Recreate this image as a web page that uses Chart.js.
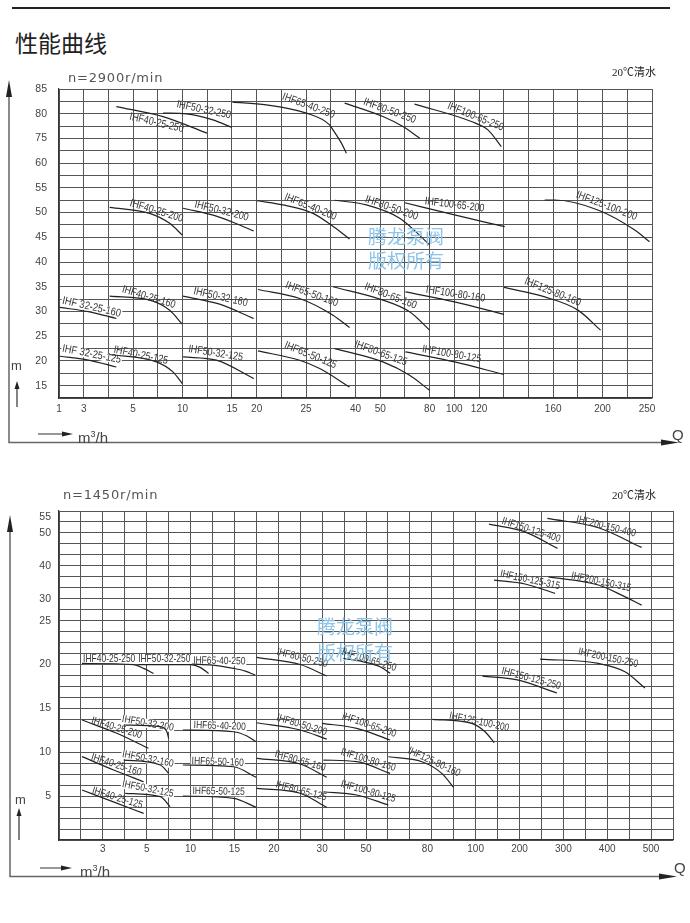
<!DOCTYPE html>
<html>
<head>
<meta charset="utf-8">
<title>性能曲线</title>
<script src="https://cdn.jsdelivr.net/npm/chart.js@4.4.1/dist/chart.umd.min.js"></script>
<style>
  body { margin: 0; background: #fff; }
  #page { position: relative; width: 690px; height: 923px; overflow: hidden; }
  canvas { position: absolute; left: 0; }
  .txt { position: absolute; white-space: nowrap; color: #444; font-family: "Liberation Sans", sans-serif; }
  .speed { font-family: "DejaVu Sans", sans-serif; font-size: 13px; line-height: 16px; letter-spacing: 0.8px; color: #555; }
  .note { font-family: "Liberation Serif", "Noto Sans CJK SC", serif; font-size: 11px; line-height: 14px; color: #222; }
  .mark { font-family: "Noto Sans CJK SC", sans-serif; font-size: 19px; color: #8cc5e8; }
  .unit { font-size: 15px; line-height: 18px; }
</style>
</head>
<body>
<div id="page">
  <div style="position:absolute;left:12px;top:7px;width:658px;border-top:2px solid #222"></div>
  <div class="txt" style="left:15px;top:29px;font-family:'Noto Sans CJK SC';font-size:23px;line-height:26px;color:#222">性能曲线</div>

  <canvas id="top" width="690" height="460" style="top:0"></canvas>
  <canvas id="bot" width="690" height="463" style="top:460px"></canvas>

  <div class="txt speed" style="left:68px;top:70px">n=2900r/min</div>
  <div class="txt note" style="left:612px;top:65px">20℃清水</div>
  <div class="txt mark" style="left:368px;top:224px;line-height:24px">腾龙泵阀<br>版权所有</div>
  <div class="txt" style="left:11px;top:358px;font-size:13px;line-height:16px">m</div>
  <div class="txt unit" style="left:78px;top:425px">m<sup style="font-size:9px">3</sup>/h</div>
  <div class="txt unit" style="left:672px;top:426px">Q</div>

  <div class="txt speed" style="left:63px;top:487px">n=1450r/min</div>
  <div class="txt note" style="left:612px;top:488px">20℃清水</div>
  <div class="txt mark" style="left:317px;top:613px;line-height:26px">腾龙泵阀<br>版权所有</div>
  <div class="txt" style="left:15px;top:792px;font-size:13px;line-height:16px">m</div>
  <div class="txt unit" style="left:80px;top:859px">m<sup style="font-size:9px">3</sup>/h</div>
  <div class="txt unit" style="left:674px;top:859px">Q</div>
</div>

<script>
// ---- n=2900r/min : positions are in grid cells (x = column, y = row from bottom)
const topCols = 24, topRows = 25;
const topQLabels = ['1','3','5','10','15','20','25','40','50','80','100','120','160','200','250'];
const topQPos = [0,1,3,5,7,8,10,12,13,15,16,17,20,22,23.8];
const topHLabels = ['15','20','25','30','35','40','45','50','55','60','75','80','85'];
const topHPos = [1,3,5,7,9,11,13,15,17,19,21,23,25];

const topModels = ['IHF40-25-250','IHF50-32-250','IHF65-40-250','IHF80-50-250','IHF100-65-250',
  'IHF40-25-200','IHF50-32-200','IHF65-40-200','IHF80-50-200','IHF100-65-200','IHF125-100-200',
  'IHF 32-25-160','IHF40-25-160','IHF50-32-160','IHF65-50-160','IHF80-65-160','IHF100-80-160','IHF125-80-160',
  'IHF 32-25-125','IHF40-25-125','IHF50-32-125','IHF65-50-125','IHF80-65-125','IHF100-80-125'];

const topCurves = [
  [[2.32,23.58],[4.21,22.77],[5.99,21.43]],
  [[4.21,23.05],[5.16,22.99],[6.23,22.5],[7.0,21.88]],
  [[7.02,23.94],[8.39,23.72],[10.01,23.05],[10.95,22.1],[11.09,21.69],[11.43,20.62],[11.63,19.8]],
  [[11.56,23.86],[13.11,22.77],[13.92,21.96],[14.6,21.02]],
  [[14.39,23.78],[16.69,22.37],[17.36,21.69],[17.9,20.34]],
  [[2.05,15.43],[3.67,14.94],[4.48,14.13],[4.99,13.18]],
  [[5.02,15.35],[6.37,14.72],[7.31,14.0],[7.88,13.51]],
  [[8.01,15.96],[9.13,15.6],[10.28,14.94],[11.02,13.99],[11.76,12.86]],
  [[11.16,16.0],[12.44,15.62],[13.79,14.54],[15.0,12.4]],
  [[14.0,15.8],[16.01,14.81],[18.04,13.86]],
  [[19.66,16.02],[20.06,16.02],[21.81,15.21],[23.3,13.59],[23.9,12.64]],
  [[0.03,7.33],[1.24,6.97],[2.32,6.43]],
  [[2.05,8.24],[3.67,7.92],[4.48,7.1],[4.99,5.97]],
  [[5.02,8.24],[6.5,7.59],[7.88,6.43]],
  [[8.05,8.78],[9.74,8.05],[11.09,6.7],[11.76,5.7]],
  [[11.09,9.0],[13.11,7.92],[14.19,6.97],[15.0,5.49]],
  [[14.02,8.59],[16.01,7.78],[18.01,6.76]],
  [[18.01,8.95],[19.66,8.18],[21.0,7.11],[21.92,5.49]],
  [[0.03,3.38],[1.24,3.05],[2.32,2.51]],
  [[2.05,3.52],[3.94,2.92],[4.61,2.11],[4.99,1.17]],
  [[5.02,3.32],[6.37,3.06],[7.88,1.57]],
  [[8.05,3.81],[9.74,3.05],[10.55,2.38],[11.76,0.89]],
  [[11.16,4.0],[13.11,2.92],[14.19,1.84],[15.0,0.62]],
  [[14.02,3.73],[16.01,2.92],[18.01,1.9]]
];
// label centre (x, y) and angle in degrees
const topLabelAt = [[3.95,22.26,13],[5.86,23.31,12],[10.1,23.64,20],[13.38,23.23,20],[16.86,22.75,22],
  [3.95,15.13,17],[6.58,15.13,14],[10.18,15.45,22],[13.46,15.37,19],[16.01,15.62,7],[22.16,15.54,21],
  [1.32,7.35,13],[3.63,8.16,17],[6.54,8.16,13],[10.23,8.4,20],[13.42,8.24,21],[16.05,8.4,9],[19.98,8.57,22],
  [1.32,3.54,11],[3.31,3.46,12],[6.34,3.62,9],[10.18,3.46,22],[13.02,3.62,20],[15.89,3.54,10]];

// ---- n=1450r/min
const botCols = 28, botRows = 30;
const botQLabels = ['3','5','10','15','20','30','50','80','100','200','300','400','500'];
const botQPos = [2,4,6,8,9.8,12,14,16.8,19,21,23,25,27];
const botHLabels = ['5','10','15','20','25','30','40','50','55'];
const botHPos = [4,8,12,16,20,22,25,28,29.4];

const botModels = ['IHF40-25-250','IHF50-32-250','IHF65-40-250','IHF80-50-250','IHF100-65-250',
  'IHF150-125-400','IHF200-150-400','IHF150-125-315','IHF200-150-315','IHF200-150-250','IHF150-125-250',
  'IHF40-25-200','IHF50-32-200','IHF65-40-200','IHF80-50-200','IHF100-65-200','IHF125-100-200',
  'IHF40-25-160','IHF50-32-160','IHF65-50-160','IHF80-65-160','IHF100-80-160','IHF125-80-160',
  'IHF40-25-125','IHF50-32-125','IHF65-50-125','IHF80-65-125','IHF100-80-125'];

const botCurves = [
  [[1.05,16.1],[3.4,16.0],[3.86,15.65],[4.31,15.19]],
  [[3.6,16.0],[6.0,16.0],[6.44,15.74],[6.82,15.19]],
  [[6.06,16.04],[7.0,15.95],[7.96,15.65],[8.5,15.4],[8.95,15.04]],
  [[9.02,16.65],[11.0,16.0],[12.21,14.95]],
  [[12.97,16.56],[13.88,16.25],[14.64,15.8],[15.1,15.2]],
  [[19.61,28.8],[21.25,28.1],[22.73,26.59]],
  [[22.27,29.33],[24.6,28.47],[26.57,26.68]],
  [[19.84,23.7],[21.25,23.34],[22.62,22.49]],
  [[22.32,24.0],[24.6,23.25],[25.66,22.33],[26.57,21.42]],
  [[21.94,16.5],[24.6,16.1],[25.81,15.34],[26.72,13.86]],
  [[19.31,14.95],[20.9,14.6],[22.71,13.4]],
  [[1.05,10.94],[2.64,9.73],[4.08,8.36]],
  [[3.02,10.48],[4.62,10.33],[4.92,9.87],[5.0,9.27]],
  [[5.65,10.03],[7.96,9.87],[8.57,9.48],[8.99,8.96]],
  [[9.02,10.69],[11.0,10.03],[12.21,9.2]],
  [[11.99,10.64],[13.58,10.18],[15.1,9.12]],
  [[17.03,11.0],[18.82,10.64],[19.43,9.87],[19.85,8.87]],
  [[1.05,7.6],[2.49,6.38],[3.86,5.31]],
  [[2.95,7.29],[4.62,6.84],[5.0,6.08]],
  [[5.65,6.84],[7.96,6.68],[8.99,5.72]],
  [[9.02,7.45],[11.0,6.93],[12.21,5.72]],
  [[12.06,7.29],[13.58,7.14],[15.1,6.08]],
  [[15.02,7.59],[16.55,7.14],[17.46,6.08],[17.99,4.8]],
  [[1.05,4.56],[2.45,3.5],[3.86,2.43]],
  [[3.02,4.26],[4.62,3.95],[5.07,3.04]],
  [[5.65,4.01],[7.96,3.8],[8.99,2.98]],
  [[9.02,4.71],[11.0,4.26],[12.21,2.98]],
  [[12.06,4.4],[13.58,4.1],[15.02,3.19]]
];
const botLabelAt = [[2.29,16.45,0],[4.8,16.45,0],[7.31,16.32,1],[11.09,16.59,14],[14.14,16.41,17],
  [21.53,28.26,18],[24.95,28.58,14],[21.48,23.7,12],[24.72,23.52,12],[25.04,16.59,12],[21.53,14.72,15],
  [2.63,10.21,17],[4.05,10.62,10],[7.33,10.39,2],[11.07,10.48,17],[14.14,10.48,19],[19.16,10.76,12],
  [2.61,6.84,18],[4.05,7.38,11],[7.24,7.11,2],[11.0,7.2,16],[14.1,7.29,17],[17.1,7.11,25],
  [2.66,3.83,17],[4.05,4.65,11],[7.28,4.42,1],[11.04,4.47,15],[14.1,4.42,16]];

// labels sitting on a white patch over the grid
const topBoxed = ['IHF 32-25-160','IHF 32-25-125'];
const botBoxed = ['IHF40-25-250','IHF50-32-250','IHF65-40-250','IHF50-32-200','IHF65-40-200',
  'IHF50-32-160','IHF65-50-160','IHF50-32-125','IHF65-50-125'];


function drawLabels(chart, o, bgPass) {
  const ctx = chart.ctx, xs = chart.scales.x, ys = chart.scales.y;
  ctx.save();
  ctx.font = o.font;
  ctx.textAlign = 'center';
  ctx.textBaseline = 'middle';
  o.names.forEach(function(name, i) {
    const p = o.at[i];
    const w = ctx.measureText(name).width;
    const sx = Math.min(1, o.charW * name.length / w);   // squeeze to the drawing's narrow lettering
    ctx.save();
    ctx.translate(xs.getPixelForValue(p[0]), ys.getPixelForValue(p[1]));
    ctx.rotate(p[2] * Math.PI / 180);
    if (bgPass) {
      if (o.boxed.indexOf(name) >= 0) {
        const bw = w * sx + 2;
        ctx.fillStyle = '#fff';
        ctx.fillRect(-bw / 2, -4.5, bw, 9);
      }
    } else {
      ctx.scale(sx, 1);
      ctx.fillStyle = '#333';
      ctx.fillText(name, 0, 0);
    }
    ctx.restore();
  });
  ctx.restore();
}

const curveLabels = {
  id: 'curveLabels',
  beforeDatasetsDraw(chart, args, o) { drawLabels(chart, o, true) },
  afterDatasetsDraw(chart, args, o) { drawLabels(chart, o, false) }
};

function head(ctx, tx, ty, bx, by, half) {
  const dx = tx - bx, dy = ty - by, len = Math.hypot(dx, dy);
  const nx = -dy / len * half, ny = dx / len * half;
  ctx.beginPath();
  ctx.moveTo(tx, ty);
  ctx.lineTo(bx + nx, by + ny);
  ctx.lineTo(bx - nx, by - ny);
  ctx.closePath();
  ctx.fill();
}

const frame = {
  id: 'frame',
  afterDraw(chart, args, o) {
    const ctx = chart.ctx;
    ctx.save();
    ctx.strokeStyle = '#666';
    ctx.fillStyle = '#222';
    ctx.lineWidth = 1.5;
    ctx.beginPath();
    ctx.moveTo(o.x, o.tip + 14);
    ctx.lineTo(o.x, o.y);
    ctx.lineTo(o.right - 16, o.y);
    ctx.stroke();
    head(ctx, o.x, o.tip, o.x, o.tip + 17, 3);
    head(ctx, o.right, o.y, o.right - 18, o.y, 3);
    // small axis hints
    ctx.lineWidth = 1.2;
    ctx.strokeStyle = '#333';
    ctx.beginPath();
    ctx.moveTo(o.m[0], o.m[1]); ctx.lineTo(o.m[0], o.m[2] + 6);
    ctx.moveTo(o.h[1], o.h[0]); ctx.lineTo(o.h[2] - 10, o.h[0]);
    ctx.stroke();
    head(ctx, o.m[0], o.m[2], o.m[0], o.m[2] + 8, 2.5);
    head(ctx, o.h[2], o.h[0], o.h[2] - 11, o.h[0], 2.5);
    ctx.restore();
  }
};

function tickList(n, extra) {
  const v = [];
  for (let i = 0; i <= n; i++) v.push(i);
  extra.forEach(function(e) { if (v.indexOf(e) < 0) v.push(e) });
  return v.sort(function(a, b) { return a - b });
}

function tickText(pos, labels, v) {
  const i = pos.findIndex(function(p) { return Math.abs(p - v) < 1e-6 });
  return i < 0 ? '' : labels[i];
}

function gridColor(c) {
  return Number.isInteger(c.tick.value) ? '#555' : 'rgba(0,0,0,0)';
}

function makeChart(id, d) {
  const xt = tickList(d.cols, d.qPos), yt = tickList(d.rows, d.hPos);
  return new Chart(document.getElementById(id), {
    type: 'line',
    data: {
      datasets: d.curves.map(function(c, i) {
        return {
          label: d.names[i],
          data: c.map(function(p) { return { x: p[0], y: p[1] } }),
          borderColor: '#222',
          borderWidth: 1.2,
          pointRadius: 0,
          cubicInterpolationMode: 'monotone',
          fill: false
        };
      })
    },
    options: {
      responsive: false,
      animation: false,
      layout: { padding: d.pad },
      plugins: {
        legend: { display: false },
        tooltip: { enabled: false },
        curveLabels: { names: d.names, at: d.labelAt, boxed: d.boxed, font: d.labelFont, charW: d.charW },
        frame: d.frame
      },
      scales: {
        x: {
          type: 'linear', min: 0, max: d.cols,
          afterBuildTicks: function(s) { s.ticks = xt.map(function(v) { return { value: v } }) },
          afterFit: function(s) { s.height = 24 },
          ticks: { autoSkip: false, maxRotation: 0, padding: d.xPad, color: '#444',
            font: { family: 'Liberation Sans', size: 10 },
            callback: function(v) { return tickText(d.qPos, d.qLabels, v) } },
          grid: { color: gridColor, drawTicks: false, lineWidth: 1 },
          border: { color: '#333', width: 1.2 }
        },
        y: {
          type: 'linear', min: 0, max: d.rows,
          afterBuildTicks: function(s) { s.ticks = yt.map(function(v) { return { value: v } }) },
          afterFit: function(s) { s.width = 59 },
          ticks: { autoSkip: false, padding: d.yPad, color: '#444',
            font: { family: 'Liberation Sans', size: 10.5 },
            callback: function(v) { return tickText(d.hPos, d.hLabels, v) } },
          grid: { color: gridColor, drawTicks: false, lineWidth: 1 },
          border: { color: '#333', width: 1.2 }
        }
      }
    },
    plugins: [curveLabels, frame]
  });
}

makeChart('top', {
  cols: topCols, rows: topRows, qPos: topQPos, qLabels: topQLabels, hPos: topHPos, hLabels: topHLabels,
  names: topModels, curves: topCurves, labelAt: topLabelAt, boxed: topBoxed,
  labelFont: '11px "Liberation Sans", sans-serif', charW: 4.6,
  pad: { left: 0, top: 89, right: 38, bottom: 38 }, xPad: 5, yPad: 12,
  frame: { x: 9, y: 442.5, tip: 80, right: 679, m: [17, 407, 381], h: [434, 38, 73] }
});

makeChart('bot', {
  cols: botCols, rows: botRows, qPos: botQPos, qLabels: botQLabels, hPos: botHPos, hLabels: botHLabels,
  names: botModels, curves: botCurves, labelAt: botLabelAt, boxed: botBoxed,
  labelFont: '10.5px "Liberation Sans", sans-serif', charW: 4.35,
  pad: { left: 0, top: 51, right: 17, bottom: 59 }, xPad: 3, yPad: 8,
  frame: { x: 10, y: 416.5, tip: 55, right: 677, m: [19, 380, 348], h: [408, 40, 72] }
});
</script>
</body>
</html>
